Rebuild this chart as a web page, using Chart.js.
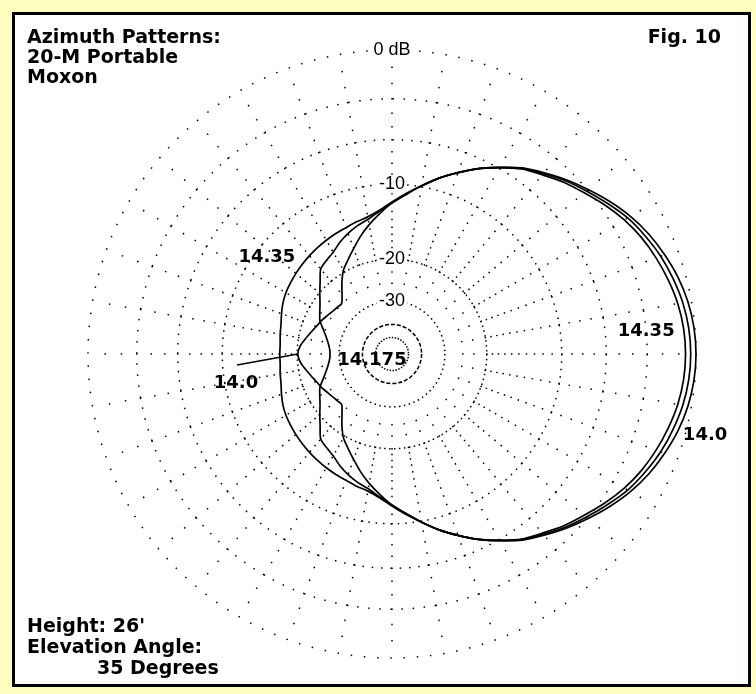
<!DOCTYPE html>
<html>
<head>
<meta charset="utf-8">
<script src="https://cdn.jsdelivr.net/npm/chart.js@4.4.1/dist/chart.umd.min.js"></script>
<style>
body { margin: 0; background: #ffffc0; }
#quadro { position: absolute; left: 12px; top: 12px; width: 733px; height: 669px; border: 3px solid #000; background: #fff; }
</style>
</head>
<body>
<div id="quadro"><canvas id="graficoAzimute"></canvas></div>
<script>
// azimute em graus, 0 = frente (direita), sentido anti-horario
var azimutes = [0, 5, 10, 15, 20, 25, 30, 35, 40, 45, 50, 55, 60, 65, 70, 75, 80, 85,
    90, 95, 100, 105, 110, 115, 120, 125, 130, 135, 140, 145, 150, 155, 160, 165, 170, 175,
    180, 185, 190, 195, 200, 205, 210, 215, 220, 225, 230, 235, 240, 245, 250, 255, 260, 265,
    270, 275, 280, 285, 290, 295, 300, 305, 310, 315, 320, 325, 330, 335, 340, 345, 350, 355];

var db140 = [0, -0.05, -0.2, -0.45, -0.8, -1.2, -1.7, -2.3, -2.95, -3.6, -4.3, -5.0, -5.9, -6.8, -7.8, -8.8, -9.9, -11.0,
    -12.0, -13.2, -14.4, -15.7, -17.1, -18.4, -19.6, -21.4, -23.4, -24.9, -24.7, -24.4, -23.9, -23.3, -22.8, -22.1, -21.3, -20.5,
    -20.1, -20.5, -21.3, -22.1, -22.8, -23.3, -23.9, -24.4, -24.7, -24.9, -23.4, -21.4, -19.6, -18.4, -17.1, -15.7, -14.4, -13.2,
    -12.0, -11.0, -9.9, -8.8, -7.8, -6.8, -5.9, -5.0, -4.3, -3.6, -2.95, -2.3, -1.7, -1.2, -0.8, -0.45, -0.2, -0.05];

var db14175 = [-0.3, -0.35, -0.5, -0.75, -1.05, -1.45, -1.9, -2.5, -3.1, -3.7, -4.4, -5.05, -5.9, -6.8, -7.8, -8.8, -9.9, -11.0,
    -12.0, -12.9, -13.7, -14.2, -14.8, -15.5, -16.3, -16.8, -17.3, -18.8, -20.1, -21.3, -22.2, -23.0, -24.4, -25.6, -26.5, -27.1,
    -27.3, -27.1, -26.5, -25.6, -24.4, -23.0, -22.2, -21.3, -20.1, -18.8, -17.3, -16.8, -16.3, -15.5, -14.8, -14.2, -13.7, -12.9,
    -12.0, -11.0, -9.9, -8.8, -7.8, -6.8, -5.9, -5.05, -4.4, -3.7, -3.1, -2.5, -1.9, -1.45, -1.05, -0.75, -0.5, -0.35];

var db1435 = [-0.6, -0.65, -0.8, -1.05, -1.35, -1.7, -2.15, -2.7, -3.3, -3.85, -4.5, -5.1, -5.95, -6.8, -7.8, -8.8, -9.9, -10.9,
    -11.9, -12.8, -13.4, -13.7, -14.0, -14.2, -14.4, -14.6, -14.8, -15.0, -15.2, -15.4, -15.6, -15.9, -16.3, -16.7, -16.9, -17.1,
    -17.1, -17.1, -16.9, -16.7, -16.3, -15.9, -15.6, -15.4, -15.2, -15.0, -14.8, -14.6, -14.4, -14.2, -14.0, -13.7, -13.4, -12.8,
    -11.9, -10.9, -9.9, -8.8, -7.8, -6.8, -5.95, -5.1, -4.5, -3.85, -3.3, -2.7, -2.15, -1.7, -1.35, -1.05, -0.8, -0.65];

var aneisDb = [-50, -40, -30, -20, -10, -6, -3, 0];
var rotulosAneis = ['', '', '-30', '-20', '-10', '', '', '0 dB'];
var pontosRaioDb = [-25, -22.5, -20, -19, -18, -17, -16, -15, -14, -13, -12, -11, -10,
    -9, -8, -7, -6, -5, -4, -3, -2, -1];

var rotulosCurvas = [
    { texto: '14.35', az: 142.2, db: -11.2 },
    { texto: '14.0', az: 190.5, db: -11.16 },
    { texto: '14.175', az: 196.7, db: -45.9 },
    { texto: '14.35', az: 5.2, db: -3.0 },
    { texto: '14.0', az: -14.5, db: 1.06 }
];

var textosTitulo = ['Azimuth Patterns:', '20-M Portable', 'Moxon'];
var textosRodape = ['Height: 26\'', 'Elevation Angle:', '35 Degrees'];

var Diagrama = Diagrama || {};

Diagrama.GraficoAzimute = (function(){

    function GraficoAzimute(){
        this.ctx = document.getElementById('graficoAzimute').getContext('2d');
    }

    // escala log ARRL: raio cai 0.89 a cada 2 dB
    function valorRaio(db){
        return Math.pow(0.89, -db / 2);
    }

    function indiceSerie(i){
        return (18 - i + 72) % 72;
    }

    function paraRadar(serie){
        return azimutes.map(function(a, i){
            return valorRaio(serie[indiceSerie(i)]);
        });
    }

    function tracoAnel(c){
        var db = aneisDb[c.index - 1];
        var r = c.scale.getDistanceFromCenterForValue(c.tick.value);
        if (db === -40) return [4, 2];
        var passo = db === -50 ? 3 : Math.max(5, r * 2.5 * Math.PI / 180);
        var n = Math.round(2 * Math.PI * r / passo);
        return [1.5, 2 * Math.PI * r / n - 1.5];
    }

    function tracoRaio(c){
        var padrao = [0];
        var anterior = 0;
        pontosRaioDb.forEach(function(d){
            var r = c.scale.getDistanceFromCenterForValue(valorRaio(d));
            padrao.push(anterior ? r - anterior - 1.5 : r - 0.75);
            padrao.push(1.5);
            anterior = r;
        });
        padrao.push(1000);
        return padrao;
    }

    function ponto(escala, az, db){
        var r = escala.getDistanceFromCenterForValue(valorRaio(db));
        var ang = az * Math.PI / 180;
        return { x: escala.xCenter + r * Math.cos(ang), y: escala.yCenter - r * Math.sin(ang) };
    }

    var pluginTextos = {
        id: 'textos',
        afterDatasetsDraw: function(chart){
            var ctx = chart.ctx;
            var escala = chart.scales.r;
            ctx.save();
            ctx.fillStyle = '#000';
            ctx.strokeStyle = '#000';
            ctx.font = 'bold 19px "DejaVu Sans"';
            ctx.textBaseline = 'alphabetic';
            ctx.textAlign = 'left';
            textosTitulo.forEach(function(t, i){ ctx.fillText(t, 12, 28 + i * 20); });
            ctx.fillText(textosRodape[0], 12, 617);
            ctx.fillText(textosRodape[1], 12, 638);
            ctx.fillText(textosRodape[2], 82, 659);
            ctx.textAlign = 'right';
            ctx.fillText('Fig. 10', 706, 28);

            ctx.font = 'bold 18px "DejaVu Sans"';
            ctx.textAlign = 'center';
            ctx.textBaseline = 'middle';
            rotulosCurvas.forEach(function(l){
                var p = ponto(escala, l.az, l.db);
                ctx.fillText(l.texto, p.x, p.y);
            });

            var a = ponto(escala, 184.1, -11.52);
            var b = ponto(escala, 180, db140[36]);
            ctx.lineWidth = 1.5;
            ctx.beginPath();
            ctx.moveTo(a.x, a.y);
            ctx.lineTo(b.x, b.y);
            ctx.stroke();
            ctx.restore();
        }
    };

    GraficoAzimute.prototype.iniciar = function(){
        var estiloCurva = {
            borderColor: '#000',
            borderWidth: 1.7,
            pointRadius: 0,
            fill: false,
            tension: 0.25
        };

        new Chart(this.ctx, {
            type: 'radar',
            data: {
                labels: azimutes.map(function(a, i){ return azimutes[indiceSerie(i)]; }),
                datasets: [
                    Object.assign({ label: '14.0', data: paraRadar(db140) }, estiloCurva),
                    Object.assign({ label: '14.175', data: paraRadar(db14175) }, estiloCurva),
                    Object.assign({ label: '14.35', data: paraRadar(db1435) }, estiloCurva)
                ]
            },
            options: {
                responsive: true,
                maintainAspectRatio: false,
                animation: false,
                events: [],
                layout: { padding: { left: 64, top: 26, right: 42, bottom: 16 } },
                plugins: {
                    legend: { display: false },
                    tooltip: { enabled: false }
                },
                scales: {
                    r: {
                        min: 0,
                        max: 1,
                        startAngle: 0,
                        afterBuildTicks: function(escala){
                            escala.ticks = [{ value: 0 }].concat(aneisDb.map(function(d){
                                return { value: valorRaio(d) };
                            }));
                        },
                        ticks: {
                            display: true,
                            color: '#000',
                            font: { family: '"Liberation Sans", Arial', size: 18 },
                            showLabelBackdrop: true,
                            backdropPadding: { x: 2, y: 0 },
                            backdropColor: function(c){
                                return c.tick && c.tick.label ? '#fff' : 'rgba(0,0,0,0)';
                            },
                            callback: function(v, i){
                                return i === 0 ? '' : rotulosAneis[i - 1];
                            }
                        },
                        grid: {
                            circular: true,
                            color: '#000',
                            lineWidth: 1.5,
                            borderDash: tracoAnel
                        },
                        border: { dash: tracoAnel },
                        angleLines: {
                            color: function(c){ return c.index % 2 === 0 ? '#000' : 'rgba(0,0,0,0)'; },
                            lineWidth: 1.5,
                            borderDash: tracoRaio
                        },
                        pointLabels: { display: false }
                    }
                }
            },
            plugins: [pluginTextos]
        });
    };

    return GraficoAzimute;
}());

var graficoAzimute = new Diagrama.GraficoAzimute();
graficoAzimute.iniciar();
</script>
</body>
</html>
